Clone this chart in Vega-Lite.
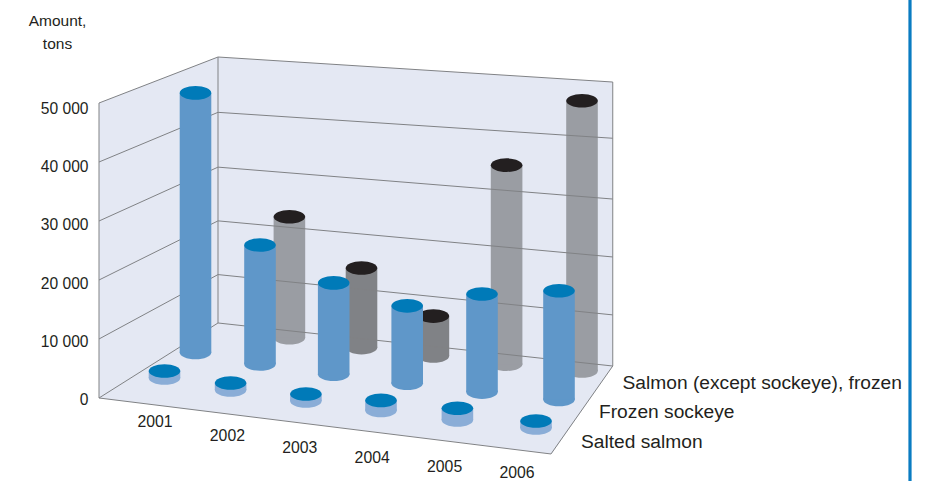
{
"$schema":"https://vega.github.io/schema/vega-lite/v6.json",
"width":935,"height":481,"padding":0,"autosize":{"type":"none"},"background":"white",
"config":{"view":{"stroke":null},"font":"Liberation Sans"},
"datasets":{
"cyl":[
{"year":2001,"series":"Salted salmon","value":1250},{"year":2002,"series":"Salted salmon","value":1250},{"year":2003,"series":"Salted salmon","value":1250},{"year":2004,"series":"Salted salmon","value":1800},{"year":2005,"series":"Salted salmon","value":2100},{"year":2006,"series":"Salted salmon","value":1250},
{"year":2001,"series":"Frozen sockeye","value":46300},{"year":2002,"series":"Frozen sockeye","value":21200},{"year":2003,"series":"Frozen sockeye","value":16300},{"year":2004,"series":"Frozen sockeye","value":13800},{"year":2005,"series":"Frozen sockeye","value":17500},{"year":2006,"series":"Frozen sockeye","value":19400},
{"year":2002,"series":"Salmon (except sockeye), frozen","value":21600},{"year":2003,"series":"Salmon (except sockeye), frozen","value":14200},{"year":2004,"series":"Salmon (except sockeye), frozen","value":7100},{"year":2005,"series":"Salmon (except sockeye), frozen","value":35500},{"year":2006,"series":"Salmon (except sockeye), frozen","value":48200}
],
"planes":[
{"plane":"left","u":0,"v":0,"l":50000,"u2":0,"v2":0,"l2":0},{"plane":"left","u":0,"v":3,"l":50000,"u2":0,"v2":3,"l2":0},
{"plane":"back","u":0,"v":3,"l":50000,"u2":0,"v2":3,"l2":0},{"plane":"back","u":6,"v":3,"l":50000,"u2":6,"v2":3,"l2":0},
{"plane":"floor","u":0,"v":0,"l":0,"u2":0,"v2":0,"l2":0},{"plane":"floor","u":0,"v":3,"l":0,"u2":1.57,"v2":0,"l2":0},{"plane":"floor","u":5.07,"v":3,"l":0,"u2":6,"v2":0,"l2":0},{"plane":"floor","u":6,"v":3,"l":0,"u2":6,"v2":3,"l2":0}
],
"lines":[
{"u":0,"v":0,"l":0,"u2":0,"v2":3,"l2":0},{"u":0,"v":0,"l":10000,"u2":0,"v2":3,"l2":9100},{"u":0,"v":0,"l":20000,"u2":0,"v2":3,"l2":19200},{"u":0,"v":0,"l":30000,"u2":0,"v2":3,"l2":29300},{"u":0,"v":0,"l":40000,"u2":0,"v2":3,"l2":39600},{"u":0,"v":0,"l":50000,"u2":0,"v2":3,"l2":50000},
{"u":0,"v":3,"l":0,"u2":6,"v2":3,"l2":0},{"u":0,"v":3,"l":9100,"u2":6,"v2":3,"l2":9000},{"u":0,"v":3,"l":19200,"u2":6,"v2":3,"l2":19200},{"u":0,"v":3,"l":29300,"u2":6,"v2":3,"l2":29400},{"u":0,"v":3,"l":39600,"u2":6,"v2":3,"l2":40100},{"u":0,"v":3,"l":50000,"u2":6,"v2":3,"l2":50000},
{"u":0,"v":0,"l":0,"u2":0,"v2":0,"l2":50000},{"u":0,"v":3,"l":0,"u2":0,"v2":3,"l2":50000},{"u":6,"v":3,"l":0,"u2":6,"v2":3,"l2":50000},
{"u":0,"v":0,"l":0,"u2":6,"v2":0,"l2":0},{"u":6,"v":0,"l":0,"u2":6,"v2":3,"l2":0}
]
},
"encoding":{
"x":{"field":"px","type":"quantitative","scale":{"domain":[0,935],"nice":false,"zero":false},"axis":null},
"y":{"field":"py","type":"quantitative","stack":null,"scale":{"domain":[-13869.9,68493.2],"nice":false,"zero":false},
"title":["Amount,","tons"],
"axis":{"values":[0,10000,20000,30000,40000,50000],"grid":false,"domain":false,"ticks":false,"offset":-88,"labelPadding":0,"labelFont":"Liberation Sans","labelFontSize":15.6,"labelColor":"#231f20","labelExpr":"replace(format(datum.value,','),',',' ')","titleFont":"Liberation Sans","titleFontSize":15.5,"titleFontWeight":"normal","titleColor":"#231f20","titleAngle":0,"titleAlign":"center","titleBaseline":"top","titleX":-31,"titleY":13,"titleLineHeight":23}}
},
"layer":[
{"data":{"name":"planes"},
"transform":[
{"calculate":"99+75.33*datum.u+39.67*datum.v-3.18*datum.u*datum.v","as":"px"},
{"calculate":"(400-(398+9.33*datum.u-25*datum.v-0.72*datum.u*datum.v-(295+3*datum.u-9.67*datum.v)*datum.l/50000))/0.00584","as":"py"},
{"calculate":"(400-(398+9.33*datum.u2-25*datum.v2-0.72*datum.u2*datum.v2-(295+3*datum.u2-9.67*datum.v2)*datum.l2/50000))/0.00584","as":"py2"}
],
"mark":{"type":"area","orient":"vertical","color":"#e4e8f3","opacity":1,"line":false},
"encoding":{"detail":{"field":"plane"},"y2":{"field":"py2"}}},
{"data":{"name":"cyl"},
"transform":[
{"filter":"datum.series=='Salmon (except sockeye), frozen'"},
{"calculate":"datum.year-2001","as":"i"},
{"calculate":"indexof(['Salted salmon','Frozen sockeye','Salmon (except sockeye), frozen'],datum.series)","as":"j"},
{"calculate":"[164.5,230.6,305.9,381,457.4,536][datum.i]+datum.j*(31-1.6*datum.i)","as":"px"},
{"calculate":"datum.px-15.8","as":"xl"},{"calculate":"datum.px+15.8","as":"xr"},
{"calculate":"(400-([378,390,401,410.5,420,428][datum.i]-25.5*datum.j-0.6*datum.i*datum.j))/0.00584","as":"py2"},
{"calculate":"datum.py2+datum.value*0.96","as":"py"}
],
"layer":[
{"mark":{"type":"point","filled":true,"opacity":1,"size":1000,"shape":"M-1,0 A1,0.43 0 1,1 1,0 A1,0.43 0 1,1 -1,0 Z"},
"encoding":{"y":{"field":"py2"},"color":{"condition":{"test":"datum.year==2003||datum.year==2004","value":"#808286"},"value":"#9a9da3"}}},
{"mark":{"type":"rect"},"encoding":{"x":{"field":"xl"},"x2":{"field":"xr"},"y2":{"field":"py2"},"color":{"condition":{"test":"datum.year==2003||datum.year==2004","value":"#808286"},"value":"#9a9da3"}}},
{"mark":{"type":"point","filled":true,"opacity":1,"size":1000,"color":"#231f20","shape":"M-1,0 A1,0.43 0 1,1 1,0 A1,0.43 0 1,1 -1,0 Z"}}
]},
{"data":{"name":"lines"},
"transform":[
{"calculate":"99+75.33*datum.u+39.67*datum.v-3.18*datum.u*datum.v","as":"px"},
{"calculate":"99+75.33*datum.u2+39.67*datum.v2-3.18*datum.u2*datum.v2","as":"px2"},
{"calculate":"(400-(398+9.33*datum.u-25*datum.v-0.72*datum.u*datum.v-(295+3*datum.u-9.67*datum.v)*datum.l/50000))/0.00584","as":"py"},
{"calculate":"(400-(398+9.33*datum.u2-25*datum.v2-0.72*datum.u2*datum.v2-(295+3*datum.u2-9.67*datum.v2)*datum.l2/50000))/0.00584","as":"py2"}
],
"mark":{"type":"rule","color":"#808285","strokeWidth":1},
"encoding":{"x2":{"field":"px2"},"y2":{"field":"py2"}}},
{"data":{"name":"cyl"},
"transform":[
{"filter":"datum.series!='Salmon (except sockeye), frozen'"},
{"calculate":"datum.year-2001","as":"i"},
{"calculate":"indexof(['Salted salmon','Frozen sockeye','Salmon (except sockeye), frozen'],datum.series)","as":"j"},
{"calculate":"[164.5,230.6,305.9,381,457.4,536][datum.i]+datum.j*(31-1.6*datum.i)","as":"px"},
{"calculate":"datum.px-15.8","as":"xl"},{"calculate":"datum.px+15.8","as":"xr"},
{"calculate":"(400-([378,390,401,410.5,420,428][datum.i]-25.5*datum.j-0.6*datum.i*datum.j))/0.00584","as":"py2"},
{"calculate":"datum.py2+datum.value*0.96","as":"py"}
],
"layer":[
{"mark":{"type":"point","filled":true,"opacity":1,"size":1000,"shape":"M-1,0 A1,0.43 0 1,1 1,0 A1,0.43 0 1,1 -1,0 Z"},
"encoding":{"y":{"field":"py2"},"color":{"condition":{"test":"datum.j==0","value":"#8aadd7"},"value":"#5f97c9"}}},
{"mark":{"type":"rect"},"encoding":{"x":{"field":"xl"},"x2":{"field":"xr"},"y2":{"field":"py2"},"color":{"condition":{"test":"datum.j==0","value":"#8aadd7"},"value":"#5f97c9"}}},
{"mark":{"type":"point","filled":true,"opacity":1,"size":1000,"color":"#007ab8","shape":"M-1,0 A1,0.43 0 1,1 1,0 A1,0.43 0 1,1 -1,0 Z"}}
]},
{"data":{"values":[{"year":2001},{"year":2002},{"year":2003},{"year":2004},{"year":2005},{"year":2006}]},
"transform":[
{"calculate":"datum.year-2001","as":"i"},
{"calculate":"155+72.4*datum.i","as":"px"},
{"calculate":"(400-(422+14.5*datum.i-0.8*datum.i*datum.i-(datum.i==5?1:0)))/0.00584","as":"py"},
{"calculate":"''+datum.year","as":"label"}
],
"mark":{"type":"text","font":"Liberation Sans","fontSize":15.8,"color":"#231f20","align":"center","baseline":"middle"},
"encoding":{"text":{"field":"label"}}},
{"data":{"values":[{"series":"Salted salmon"},{"series":"Frozen sockeye"},{"series":"Salmon (except sockeye), frozen"}]},
"transform":[
{"calculate":"indexof(['Salted salmon','Frozen sockeye','Salmon (except sockeye), frozen'],datum.series)","as":"j"},
{"calculate":"[581,599,622.5][datum.j]","as":"px"},
{"calculate":"(400-(442-29.5*datum.j))/0.00584","as":"py"}
],
"mark":{"type":"text","font":"Liberation Sans","fontSize":19.2,"color":"#231f20","align":"left","baseline":"middle"},
"encoding":{"text":{"field":"series"}}},
{"data":{"values":[{"edge":"right"}]},
"transform":[
{"calculate":"910","as":"px"},{"calculate":"68493.2","as":"py"},{"calculate":"-13869.9","as":"py2"}
],
"mark":{"type":"rule","color":"#0a7cc2","strokeWidth":3.2},
"encoding":{"y2":{"field":"py2"}}}
]
}
